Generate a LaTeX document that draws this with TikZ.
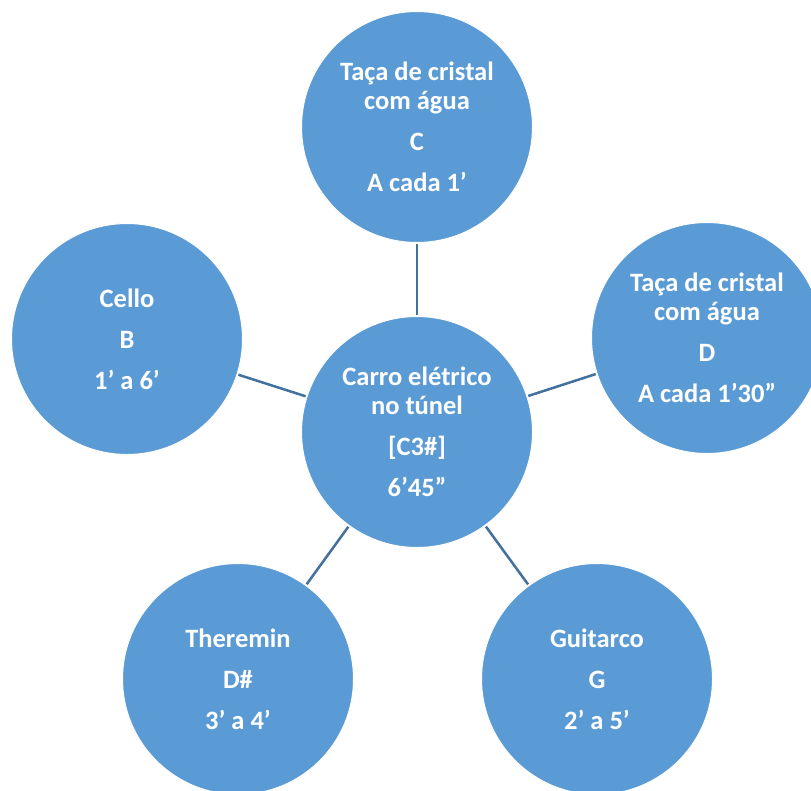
\documentclass[tikz,border=0pt]{standalone}
\usepackage{fontspec}
\setmainfont{Carlito}
\definecolor{circfill}{HTML}{5B9BD5}
\definecolor{linkcol}{HTML}{41719C}
\begin{document}
\begin{tikzpicture}[x=1pt,y=-1pt,
  bub/.style={circle, fill=circfill, draw=white, line width=1pt,
    minimum size=231pt, inner sep=0pt, align=center, text=white,
    font=\fontsize{26.5}{29}\selectfont\bfseries},
  link/.style={draw=linkcol, line width=2.5pt, shorten >=1pt, shorten <=1pt}]
\useasboundingbox (0,0) rectangle (811,790);
\clip (0,0) rectangle (811,790);
\fill[white] (0,0) rectangle (811,790);
\node[bub] (c) at (417,432) {Carro elétrico\\no túnel\\[12pt][C3\#]\\[12pt]6’45”};
\node[bub] (t) at (417,127) {Taça de cristal\\com água\\[12pt]C\\[12pt]A cada 1’};
\node[bub] (l) at (127,339) {Cello\\[12pt]B\\[12pt]1’ a 6’};
\node[bub] (r) at (707,338) {Taça de cristal\\com água\\[12pt]D\\[12pt]A cada 1’30”};
\node[bub] (bl) at (238,679) {Theremin\\[12pt]D\#\\[12pt]3’ a 4’};
\node[bub] (br) at (597,679) {Guitarco\\[12pt]G\\[12pt]2’ a 5’};
\draw[link] (t) -- (c);
\draw[link] (l) -- (c);
\draw[link] (r) -- (c);
\draw[link] (bl) -- (c);
\draw[link] (br) -- (c);
\end{tikzpicture}
\end{document}
